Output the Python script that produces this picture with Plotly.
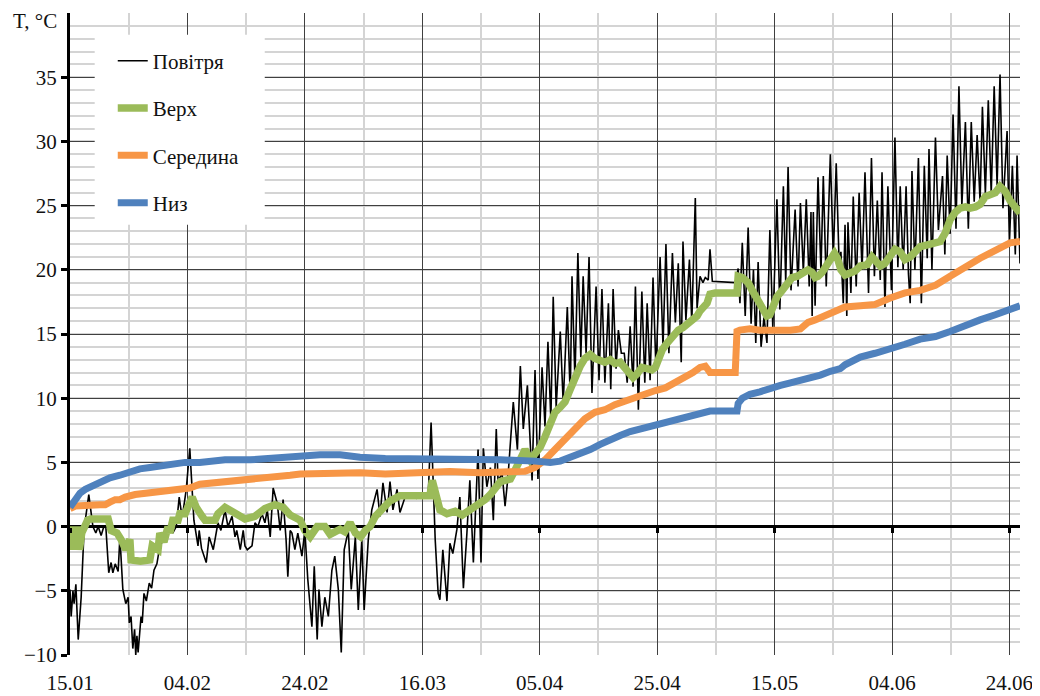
import pandas as pd
import plotly.graph_objects as go

START = pd.Timestamp("2019-01-15")

# Air temperature (days since 15.01, °C)
AIR_DAYS = [0, 0.2, 0.5, 0.7, 1.0, 1.4, 1.9, 2.4, 3.2, 3.9, 4.4, 4.8, 5.3, 5.7, 6.1, 6.6, 7.0, 7.3, 7.7, 8.2, 8.5,
            9.0, 9.5, 9.9, 10.1, 10.4, 10.7, 11.0, 11.2, 11.4, 11.6, 12.1, 12.3, 12.6, 13.0, 13.5, 13.9, 14.3, 14.8,
            15.2, 15.8, 16.4, 17.0, 17.5, 18.1, 18.6, 19.0, 19.3, 19.8, 20.4, 21.1, 21.5, 21.8, 22.0, 22.4, 23.2,
            23.7, 24.4, 25.2, 25.7, 26.1, 26.4, 26.9, 27.6, 28.1, 28.4, 29.0, 29.5, 29.8, 30.2, 31.0, 31.5, 32.0,
            32.7, 33.2, 33.6, 34.1, 34.6, 35.3, 35.8, 36.3, 36.8, 37.1, 37.5, 37.8, 38.3, 38.8, 39.5, 40.0, 40.5,
            41.2, 41.6, 42.1, 42.4, 42.9, 43.4, 44.0, 44.6, 45.1, 45.7, 46.2, 46.7, 47.4, 47.9, 48.6, 49.1, 49.7,
            50.1, 50.8, 51.4, 52.3, 52.8, 53.3, 54.0, 54.5, 55.0, 55.7, 56.2, 57.0, 58.0, 59.0, 60.0, 61.0, 61.5,
            62.2, 62.7, 63.0, 63.5, 64.2, 64.7, 65.2, 65.9, 66.4, 67.0, 67.6, 68.1, 68.7, 69.5, 70.0, 70.4, 71.0,
            71.6, 72.1, 72.6, 72.9, 73.6, 74.1, 74.6, 75.5, 76.2, 76.7, 77.2, 77.9, 78.7, 79.2, 79.7,
            80.4, 80.9, 81.4, 81.9, 82.3, 82.8, 83.5, 84.0, 84.7, 85.2, 85.5, 86.0, 86.5, 87.0, 87.4, 87.9, 88.4,
            88.9, 89.6, 90.1, 90.6, 91.1, 91.7, 92.1, 92.5, 93.0, 93.4, 93.9, 94.4, 94.9, 95.4, 95.9, 96.3, 96.8,
            97.4, 97.9, 98.3, 98.8, 99.3, 99.8, 100.5, 101.0, 101.5, 102.0, 102.6, 103.1, 103.6, 104.1, 104.4,
            104.9, 105.5, 105.9, 106.5, 106.8, 107.3, 107.8, 108.2, 108.7, 109.0, 109.4, 113.3, 113.8, 114.1,
            114.5, 115.0, 115.5, 116.0, 116.4, 116.8, 117.2, 117.7, 118.2, 118.7, 119.2, 119.7, 120.4, 120.9,
            121.5, 121.9, 122.3, 122.8, 123.5, 124.0, 124.4, 124.9, 125.4, 125.9, 126.2, 126.4, 126.6, 126.9,
            127.4, 127.9, 128.3, 128.8, 129.5, 130.0, 130.5, 131.0, 131.3, 131.7, 132.0, 132.3, 132.5, 133.0,
            133.4, 133.9, 134.4, 134.9, 135.4, 136.0, 136.5, 137.0, 137.5, 138.0, 138.3, 138.8, 139.3, 139.9,
            140.5, 141.0, 141.4, 141.9, 142.4, 142.8, 143.1, 143.4, 143.9, 144.5, 145.0, 145.5, 146.0, 146.3,
            146.8, 147.4, 147.9, 148.6, 149.0, 149.4, 149.9, 150.4, 150.9, 151.4, 151.9, 152.5, 153.0, 153.5,
            154.0, 154.5, 155.0, 155.4, 155.9, 156.4, 156.9, 157.4, 157.9, 158.4, 158.9, 159.6, 160.0, 160.5,
            161.0, 161.3, 161.8]
AIR_T = [-4.9, -7.0, -5.0, -6.0, -4.5, -8.8, -5.5, -0.2, 2.5, 0.0, -0.5, 0.0, -0.7, -0.1, 0.0, -3.6, -2.8, -3.6,
         -2.9, -3.5, -0.8,
         -4.9, -6.0, -5.5, -7.5, -7.0, -9.5, -8.0, -10.0, -8.5, -9.8, -7.0, -7.5, -5.2, -5.8, -4.4, -4.8, -3.4, -2.9,
         -1.8, -1.0, -0.3, 0.2, -0.5, 0.0, 2.3, 1.0, 1.3, 2.9, 6.1, 0.5, -0.8, -1.5, -0.3, -1.7, -2.8,
         -0.8, -1.8, 0.3, -0.3, 0.5, 1.3, 0.0, 0.8, -0.8, -0.3, -1.8, -0.3, -1.5, -1.8, -1.5, 0.3, 0.0,
         1.0, 0.3, 1.3, -0.8, 3.0, 1.8, -0.3, 2.1, -1.0, -3.9, -0.3, -0.5, -1.8, -0.5, -2.3, -0.3, -4.1,
         -7.8, -3.1, -8.8, -4.9, -7.8, -5.5, -7.0, -3.4, -2.3, -4.9, -9.8, -1.8, -0.3, -4.9, -0.8, -6.5, -1.0,
         -6.5, -1.0, 1.3, 2.9, 0.8, 3.4, 1.1, 3.5, 1.3, 2.9, 1.1, 2.2, 2.4, 2.2, 2.4, 2.3, 8.1,
         -1.0, -5.2, -5.7, -1.8, -5.8, -1.3, -2.1, -0.2, 2.3, -4.8, -0.5, 3.6, -2.8, 6.0, -2.8, 6.1, 3.1,
         4.6, 0.5, 7.6, 3.6, 4.1, 1.6, 3.9, 9.7, 6.0, 12.5, 7.6, 11.0, 3.6, 12.2, 3.7,
         12.4, 7.8, 14.4, 8.3, 17.9, 9.3, 15.2, 9.6, 17.1, 10.1, 19.5, 11.4, 21.3, 13.2, 19.5, 13.5, 21.0,
         10.4, 18.7, 11.4, 18.5, 11.2, 17.4, 10.7, 18.5, 12.3, 15.3, 13.5, 13.5, 11.2, 15.6, 10.9, 18.7, 9.1,
         18.3, 11.2, 17.4, 11.4, 19.4, 12.2, 21.0, 14.0, 22.0, 13.5, 21.3, 15.9, 20.5, 12.8, 22.2,
         16.1, 20.8, 15.9, 25.6, 17.0, 19.5, 19.0, 19.4, 19.2, 21.6, 19.1, 19.0, 20.1, 17.4,
         22.1, 16.4, 23.3, 15.8, 20.0, 14.3, 20.6, 14.0, 16.3, 14.3, 23.1, 15.5, 25.5, 16.9,
         26.5, 19.0, 28.0, 18.4, 24.7, 18.7, 25.2, 19.8, 25.5, 18.7, 24.5, 16.4, 24.5, 17.2,
         27.2, 19.8, 27.3, 18.7, 29.0, 20.9, 28.3, 20.4, 21.4, 17.4, 23.5, 16.4, 23.7, 18.2,
         25.7, 18.7, 26.0, 20.0, 27.6, 18.2, 28.7, 19.5, 25.4, 19.2, 27.6, 17.1, 26.5, 18.4,
         30.3, 20.2, 26.5, 20.0, 26.5, 19.7, 17.4, 27.7, 20.0, 28.7, 17.4, 28.1, 20.9, 29.4,
         20.0, 30.3, 23.1, 27.3, 21.2, 28.9, 22.8, 32.1, 23.2, 34.3, 25.0, 31.5, 23.2, 31.5,
         25.3, 30.5, 25.3, 32.7, 25.9, 33.2, 25.9, 34.3, 26.6, 35.2, 24.8, 30.8, 22.1, 28.1,
         21.2, 28.9, 20.5]

# Top layer ("Верх")
TOP_DAYS = [0.0, 0.2, 0.5, 0.8, 1.2, 1.6, 2.0, 2.4, 3.0, 3.5, 5.0, 6.5, 7.0, 8.0, 8.7, 9.5, 10.2, 10.4, 12.0, 13.6,
            14.0, 15.0, 15.3, 16.0, 16.7, 17.0, 17.5, 18.4, 18.7, 19.6, 20.8, 21.5, 22.5, 23.0, 24.7, 25.2, 26.4,
            28.1, 29.8, 31.5, 33.2, 34.9, 36.3, 37.5, 39.2, 40.0, 40.9, 42.1, 43.4, 44.3, 46.0, 46.8, 47.7, 48.6,
            49.5, 50.3, 51.1, 52.0, 53.7, 54.5, 56.2, 61.3, 61.7, 62.2, 62.5, 63.0, 64.2, 65.6, 66.8, 68.1, 69.5,
            70.7, 71.6, 72.4, 73.3, 74.1, 75.0, 75.8, 76.7, 77.5, 78.4, 79.2, 80.1, 80.9, 81.8, 82.6, 83.5, 84.3,
            85.2, 86.0, 86.9, 87.7, 88.6, 89.4, 90.3, 91.1, 92.0, 92.8, 93.7, 94.5, 95.4, 95.9, 96.6, 97.4, 98.3,
            99.1, 99.7, 100.2, 100.9, 101.7, 102.6, 103.6, 104.4, 105.3, 106.1, 106.8, 107.3, 107.8, 108.5, 109.0,
            109.9, 113.6, 113.8, 114.5, 115.5, 116.2, 117.0, 117.9, 118.7, 119.2, 119.8, 120.4, 121.3, 122.1,
            123.0, 123.9, 124.9, 125.7, 126.4, 126.9, 127.4, 128.1, 128.8, 129.5, 130.2, 130.7, 131.3, 132.0,
            132.9, 133.7, 134.6, 135.8, 136.6, 137.5, 138.0, 138.8, 139.7, 140.5, 141.4, 142.2, 143.1, 143.9,
            144.8, 145.7, 146.5, 147.4, 148.2, 149.1, 149.9, 150.8, 151.6, 152.5, 153.3, 154.2, 155.0, 155.9,
            156.7, 157.6, 158.4, 159.3, 160.1, 161.0, 161.8]
TOP_T = [0.0, -1.8, 0.0, -1.8, 0.0, -1.8, -0.5, 0.0, 0.5, 0.6, 0.6, 0.6, -0.3, -0.5, -1.0, -1.8, -1.0, -2.6, -2.7,
         -2.6, -1.5, -1.8, -0.5, -1.2, 0.0, -0.5, 0.5, 0.5, 1.0, 1.0, 2.3, 1.5, 0.8, 0.5, 0.5, 1.0, 1.5,
         1.0, 0.6, 0.8, 1.4, 1.7, 1.5, 0.9, 0.5, -0.3, -0.8, 0.0, 0.0, -0.6, -0.2, -0.4, 0.3, -0.5,
         -0.8, -0.3, 0.0, 0.8, 1.5, 2.0, 2.4, 2.4, 3.6, 2.8, 2.1, 1.3, 1.0, 1.2, 0.9, 1.3, 1.6,
         2.1, 2.5, 3.1, 3.5, 3.6, 3.7, 4.4, 5.4, 6.0, 5.2, 5.6, 6.2, 7.0, 8.1, 8.9, 9.3, 9.7,
         10.7, 11.7, 12.5, 13.1, 13.4, 13.1, 13.0, 12.8, 13.0, 12.7, 12.8, 12.4, 11.9, 11.6, 11.9, 12.4, 12.3,
         12.2, 12.4, 13.2, 13.8, 14.3, 14.8, 15.3, 15.5, 15.8, 16.0, 16.4, 16.8, 17.1, 17.4, 18.1,
         18.2, 18.2, 19.5, 19.4, 19.0, 18.4, 17.7, 16.9, 16.4, 16.5, 17.2, 17.9, 18.4, 19.0,
         19.4, 19.5, 19.8, 20.0, 19.8, 19.4, 19.5, 19.8, 20.3, 20.9, 21.3, 20.9, 20.0, 19.6,
         19.8, 19.9, 20.3, 20.4, 21.0, 20.4, 20.3, 20.5, 21.0, 21.6, 21.4, 20.8, 21.0, 21.3,
         21.8, 21.9, 22.0, 22.1, 22.2, 22.9, 23.9, 24.5, 24.8, 24.9, 24.8, 24.9, 25.1, 25.7,
         25.8, 26.0, 26.5, 26.1, 25.4, 24.8, 24.4]

# Middle layer ("Середина")
MID_DAYS = [0, 0.9, 5.1, 6.0, 6.8, 7.7, 8.5, 9.4, 11.1, 13.6, 16.2, 18.7, 20.4, 22.1, 24.7, 26.4, 29.8, 33.2,
            37.5, 39.2, 44.3, 49.4, 53.7, 59.6, 64.7, 69.8, 73.3, 75.8, 77.5, 79.2, 80.9, 82.6, 84.3, 86.0, 87.7,
            89.4, 91.1, 92.8, 94.5, 96.3, 98.0, 99.7, 101.4, 103.1, 104.8, 106.1, 107.3, 108.2, 108.7, 109.0,
            113.3, 113.6, 114.1, 115.8, 117.5, 119.2, 121.0, 122.7, 124.4, 125.7, 126.9, 128.6, 130.3, 132.0,
            134.6, 137.1, 139.7, 142.2, 144.8, 147.4, 149.9, 151.6, 153.3, 155.0, 156.7, 158.4, 160.1, 161.8]
MID_T = [1.4, 1.6, 1.7, 1.7, 1.9, 2.1, 2.1, 2.3, 2.5, 2.6, 2.7, 2.9, 3.0, 3.3, 3.4, 3.5, 3.6, 3.7,
         4.0, 4.1, 4.2, 4.2, 4.1, 4.2, 4.3, 4.2, 4.2, 4.2, 4.3, 4.6, 5.2, 6.0, 6.8, 7.7, 8.4,
         8.9, 9.1, 9.5, 9.8, 10.0, 10.3, 10.6, 10.8, 11.2, 11.7, 12.0, 12.4, 12.5, 12.2, 12.0,
         12.0, 15.2, 15.3, 15.4, 15.3, 15.3, 15.2, 15.3, 15.4, 15.9, 16.1, 16.4, 16.8, 17.1,
         17.2, 17.3, 17.8, 18.2, 18.4, 18.8, 19.5, 20.0, 20.5, 20.9, 21.3, 21.7, 22.1, 22.2]

# Bottom layer ("Низ")
LOW_DAYS = [0, 0.9, 1.7, 2.6, 3.4, 5.1, 6.8, 8.5, 10.2, 11.9, 13.6, 15.3, 17.0, 19.6, 22.1, 24.7, 26.4, 30.7,
            35.8, 39.2, 42.6, 46.0, 49.4, 53.7, 59.6, 66.4, 73.3, 79.2, 81.8, 83.5, 85.2, 86.9, 88.6, 90.3, 92.0,
            93.7, 95.4, 97.1, 98.8, 100.5, 102.2, 103.9, 105.6, 107.3, 108.2, 109.0, 113.6, 113.8, 114.5, 115.8,
            117.5, 119.2, 121.0, 122.7, 124.4, 126.1, 127.8, 129.5, 131.2, 132.0, 134.6, 137.1, 139.7, 142.2,
            144.8, 147.4, 149.9, 152.5, 155.0, 157.6, 160.1, 161.8]
LOW_T = [1.5, 2.1, 2.6, 2.9, 3.1, 3.5, 3.8, 4.0, 4.3, 4.5, 4.6, 4.7, 4.9, 5.0, 5.0, 5.1, 5.2, 5.2,
         5.4, 5.5, 5.6, 5.6, 5.4, 5.3, 5.3, 5.2, 5.2, 5.1, 5.0, 5.1, 5.4, 5.6, 6.0, 6.4, 6.8,
         7.1, 7.4, 7.6, 7.8, 8.0, 8.2, 8.3, 8.5, 8.7, 8.9, 9.0, 9.0, 9.6, 10.0, 10.3,
         10.5, 10.8, 11.0, 11.2, 11.4, 11.5, 11.8, 12.1, 12.3, 12.6, 13.2, 13.5, 13.8, 14.2,
         14.6, 14.8, 15.2, 15.7, 16.1, 16.5, 16.9, 17.2]

SERIES_NAMES = ["Повітря", "Верх", "Середина", "Низ"]
Y_TICKS = [-10, -5, 0, 5, 10, 15, 20, 25, 30, 35]
Y_LABEL = "T, °C"


def to_dates(days):
    return START + pd.to_timedelta(pd.Series(days), unit="D")


FONT = "Liberation Serif, Times New Roman, DejaVu Serif, serif"
DAY_MS = 86400000
TXT = "#111111"

fig = go.Figure()
styles = [
    (AIR_DAYS, AIR_T, "#000000", 1.6),
    (TOP_DAYS, TOP_T, "#9BBB59", 7.5),
    (MID_DAYS, MID_T, "#F79646", 7),
    (LOW_DAYS, LOW_T, "#4F81BD", 7),
]
for i, (d, t, col, w) in enumerate(styles):
    fig.add_trace(go.Scatter(
        x=to_dates(d), y=t, mode="lines", name=SERIES_NAMES[i],
        line=dict(color=col, width=w), legendgroup=str(i),
    ))

# invisible trace on secondary x axis for ticks at the zero line
fig.add_trace(go.Scatter(x=to_dates([0, 161.8]), y=[0, 0], xaxis="x2", mode="lines",
                         line=dict(width=0), showlegend=False, hoverinfo="skip"))

x_end = START + pd.Timedelta(days=161.8)

fig.update_layout(
    width=1032, height=688,
    margin=dict(l=62, r=20, t=5, b=41),
    paper_bgcolor="white", plot_bgcolor="white",
    font=dict(family=FONT, size=21, color=TXT),
    showlegend=True,
    legend=dict(
        x=0.045, y=0.957, xanchor="left", yanchor="top",
        bgcolor="rgba(0,0,0,0)", borderwidth=0,
        font=dict(family=FONT, size=21, color=TXT),
        traceorder="grouped", tracegroupgap=17,
        itemwidth=30,
    ),
    xaxis=dict(
        type="date", range=[START, x_end], automargin=False,
        tick0=START, dtick=20 * DAY_MS, tickformat="%d.%m",
        showgrid=True, gridcolor="#404040", gridwidth=1,
        minor=dict(dtick=10 * DAY_MS, tick0=START, showgrid=True, gridcolor="#d4d4d4", gridwidth=1.5),
        ticks="outside", ticklen=9, tickcolor="rgba(0,0,0,0)",
        showline=False, zeroline=False,
        tickfont=dict(family=FONT, size=21, color=TXT),
    ),
    xaxis2=dict(
        type="date", overlaying="x", matches="x", anchor="free", position=0.2, automargin=False,
        tick0=START, dtick=20 * DAY_MS, ticks="outside", ticklen=5, tickwidth=2.5,
        tickcolor="#000000", showticklabels=False, showgrid=False, showline=False, zeroline=False,
    ),
    yaxis=dict(
        range=[-10, 40], tickvals=Y_TICKS, automargin=False,
        showgrid=True, gridcolor="#404040", gridwidth=1,
        minor=dict(dtick=1, showgrid=True, gridcolor="#d4d4d4", gridwidth=1.5),
        zeroline=True, zerolinecolor="#000000", zerolinewidth=3,
        showline=True, linecolor="#000000", linewidth=3,
        ticks="outside", ticklen=6, tickwidth=2.5, tickcolor="#000000",
        tickfont=dict(family=FONT, size=21, color=TXT),
    ),
    shapes=[dict(type="rect", xref="paper", yref="paper", x0=0.026, x1=0.205, y0=0.67, y1=0.966,
                 fillcolor="white", line=dict(width=0), layer="above")],
    annotations=[dict(text=Y_LABEL, xref="paper", yref="y", x=0, y=40, xanchor="right", yanchor="middle",
                      xshift=-11, yshift=-8, showarrow=False,
                      font=dict(family=FONT, size=21, color=TXT))],
)

fig.write_html("out.html")
